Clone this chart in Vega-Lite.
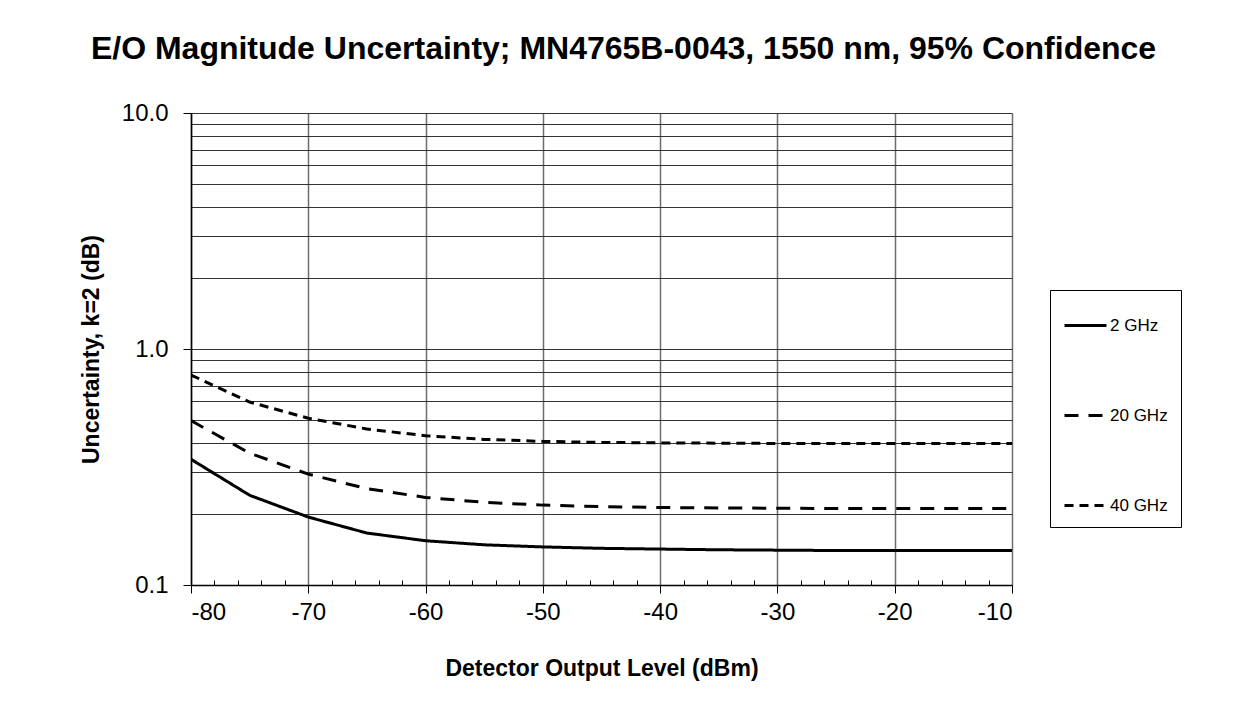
{
  "$schema": "https://vega.github.io/schema/vega-lite/v6.json",
  "autosize": "none",
  "width": 821,
  "height": 472,
  "padding": {"left": 191, "top": 113, "right": 227, "bottom": 136},
  "background": "white",
  "config": {
    "font": "Liberation Sans",
    "view": {"stroke": null},
    "axis": {"labelFont": "Liberation Sans", "titleFont": "Liberation Sans", "labelColor": "black", "titleColor": "black", "domainColor": "black", "tickColor": "black"}
  },
  "title": {
    "text": "E/O Magnitude Uncertainty; MN4765B-0043, 1550 nm, 95% Confidence",
    "font": "Liberation Sans",
    "fontSize": 32,
    "fontWeight": "bold",
    "color": "black",
    "anchor": "middle",
    "dx": 22,
    "offset": 35
  },
  "data": {
    "values": [
      {"level": -80, "freq": "2 GHz", "u": 0.341},
      {"level": -75, "freq": "2 GHz", "u": 0.240},
      {"level": -70, "freq": "2 GHz", "u": 0.194},
      {"level": -65, "freq": "2 GHz", "u": 0.166},
      {"level": -60, "freq": "2 GHz", "u": 0.154},
      {"level": -55, "freq": "2 GHz", "u": 0.148},
      {"level": -50, "freq": "2 GHz", "u": 0.145},
      {"level": -45, "freq": "2 GHz", "u": 0.143},
      {"level": -40, "freq": "2 GHz", "u": 0.142},
      {"level": -35, "freq": "2 GHz", "u": 0.141},
      {"level": -30, "freq": "2 GHz", "u": 0.1405},
      {"level": -25, "freq": "2 GHz", "u": 0.140},
      {"level": -20, "freq": "2 GHz", "u": 0.140},
      {"level": -15, "freq": "2 GHz", "u": 0.140},
      {"level": -10, "freq": "2 GHz", "u": 0.140},
      {"level": -80, "freq": "20 GHz", "u": 0.497},
      {"level": -75, "freq": "20 GHz", "u": 0.362},
      {"level": -70, "freq": "20 GHz", "u": 0.295},
      {"level": -65, "freq": "20 GHz", "u": 0.256},
      {"level": -60, "freq": "20 GHz", "u": 0.235},
      {"level": -55, "freq": "20 GHz", "u": 0.224},
      {"level": -50, "freq": "20 GHz", "u": 0.218},
      {"level": -45, "freq": "20 GHz", "u": 0.215},
      {"level": -40, "freq": "20 GHz", "u": 0.213},
      {"level": -35, "freq": "20 GHz", "u": 0.212},
      {"level": -30, "freq": "20 GHz", "u": 0.2115},
      {"level": -25, "freq": "20 GHz", "u": 0.211},
      {"level": -20, "freq": "20 GHz", "u": 0.211},
      {"level": -15, "freq": "20 GHz", "u": 0.211},
      {"level": -10, "freq": "20 GHz", "u": 0.211},
      {"level": -80, "freq": "40 GHz", "u": 0.776},
      {"level": -75, "freq": "40 GHz", "u": 0.596},
      {"level": -70, "freq": "40 GHz", "u": 0.509},
      {"level": -65, "freq": "40 GHz", "u": 0.458},
      {"level": -60, "freq": "40 GHz", "u": 0.429},
      {"level": -55, "freq": "40 GHz", "u": 0.414},
      {"level": -50, "freq": "40 GHz", "u": 0.406},
      {"level": -45, "freq": "40 GHz", "u": 0.402},
      {"level": -40, "freq": "40 GHz", "u": 0.400},
      {"level": -35, "freq": "40 GHz", "u": 0.399},
      {"level": -30, "freq": "40 GHz", "u": 0.398},
      {"level": -25, "freq": "40 GHz", "u": 0.398},
      {"level": -20, "freq": "40 GHz", "u": 0.398},
      {"level": -15, "freq": "40 GHz", "u": 0.398},
      {"level": -10, "freq": "40 GHz", "u": 0.398}
    ]
  },
  "layer": [
    {
      "mark": {"type": "line", "opacity": 0},
      "encoding": {
        "x": {
          "field": "level", "type": "quantitative",
          "scale": {"domain": [-80, -10], "nice": false, "zero": false},
          "axis": {
            "orient": "bottom",
            "values": [-78, -76, -74, -72, -68, -66, -64, -62, -58, -56, -54, -52, -48, -46, -44, -42, -38, -36, -34, -32, -28, -26, -24, -22, -18, -16, -14, -12],
            "tickSize": -5, "tickWidth": 1, "tickColor": "black",
            "labels": false, "domain": false, "grid": false, "title": null
          }
        },
        "y": {
          "field": "u", "type": "quantitative",
          "scale": {"type": "log", "domain": [0.1, 10], "nice": false},
          "axis": null
        },
        "detail": {"field": "freq"}
      }
    },
    {
      "mark": {"type": "line", "color": "black", "strokeWidth": 3, "clip": true},
      "encoding": {
        "x": {
          "field": "level", "type": "quantitative",
          "scale": {"domain": [-80, -10], "nice": false, "zero": false},
          "axis": {
            "orient": "bottom",
            "values": [-80, -70, -60, -50, -40, -30, -20, -10],
            "labelExpr": "'' + datum.value",
            "tickSize": 8, "tickWidth": 1,
            "labelFontSize": 24, "labelPadding": 7,
            "grid": true, "gridColor": "#6e6e6e", "gridWidth": 1.5,
            "domainWidth": 1.5,
            "title": "Detector Output Level (dBm)",
            "titleFontSize": 23, "titleFontWeight": "bold", "titlePadding": 33
          }
        },
        "y": {
          "field": "u", "type": "quantitative",
          "scale": {"type": "log", "domain": [0.1, 10], "nice": false},
          "axis": {
            "values": [0.1, 0.2, 0.3, 0.4, 0.5, 0.6, 0.7, 0.8, 0.9, 1, 2, 3, 4, 5, 6, 7, 8, 9, 10],
            "labelExpr": "datum.value == 0.1 ? '0.1' : datum.value == 1 ? '1.0' : datum.value == 10 ? '10.0' : ''",
            "tickSize": 8,
            "tickColor": {"condition": {"test": "datum.value == 0.1 || datum.value == 1 || datum.value == 10", "value": "black"}, "value": "transparent"},
            "labelFontSize": 24, "labelPadding": 15,
            "grid": true, "gridColor": "#333333", "gridWidth": 1.2,
            "domainWidth": 1.5,
            "title": "Uncertainty, k=2 (dB)",
            "titleFontSize": 23, "titleFontWeight": "bold", "titlePadding": 18
          }
        },
        "strokeDash": {
          "field": "freq", "type": "nominal",
          "scale": {"domain": ["2 GHz", "20 GHz", "40 GHz"], "range": [[1, 0], [14, 10], [9, 6]]},
          "legend": {
            "title": null,
            "orient": "none",
            "legendX": 859,
            "legendY": 177,
            "padding": 13,
            "strokeColor": "black",
            "fillColor": "white",
            "symbolType": "stroke",
            "symbolSize": 1764,
            "symbolStrokeWidth": 3,
            "symbolStrokeColor": "black",
            "labelFont": "Liberation Sans",
            "labelFontSize": 17,
            "labelColor": "black",
            "labelOffset": 2,
            "rowPadding": 59
          }
        }
      }
    }
  ],
  "resolve": {"axis": {"x": "independent", "y": "independent"}}
}
